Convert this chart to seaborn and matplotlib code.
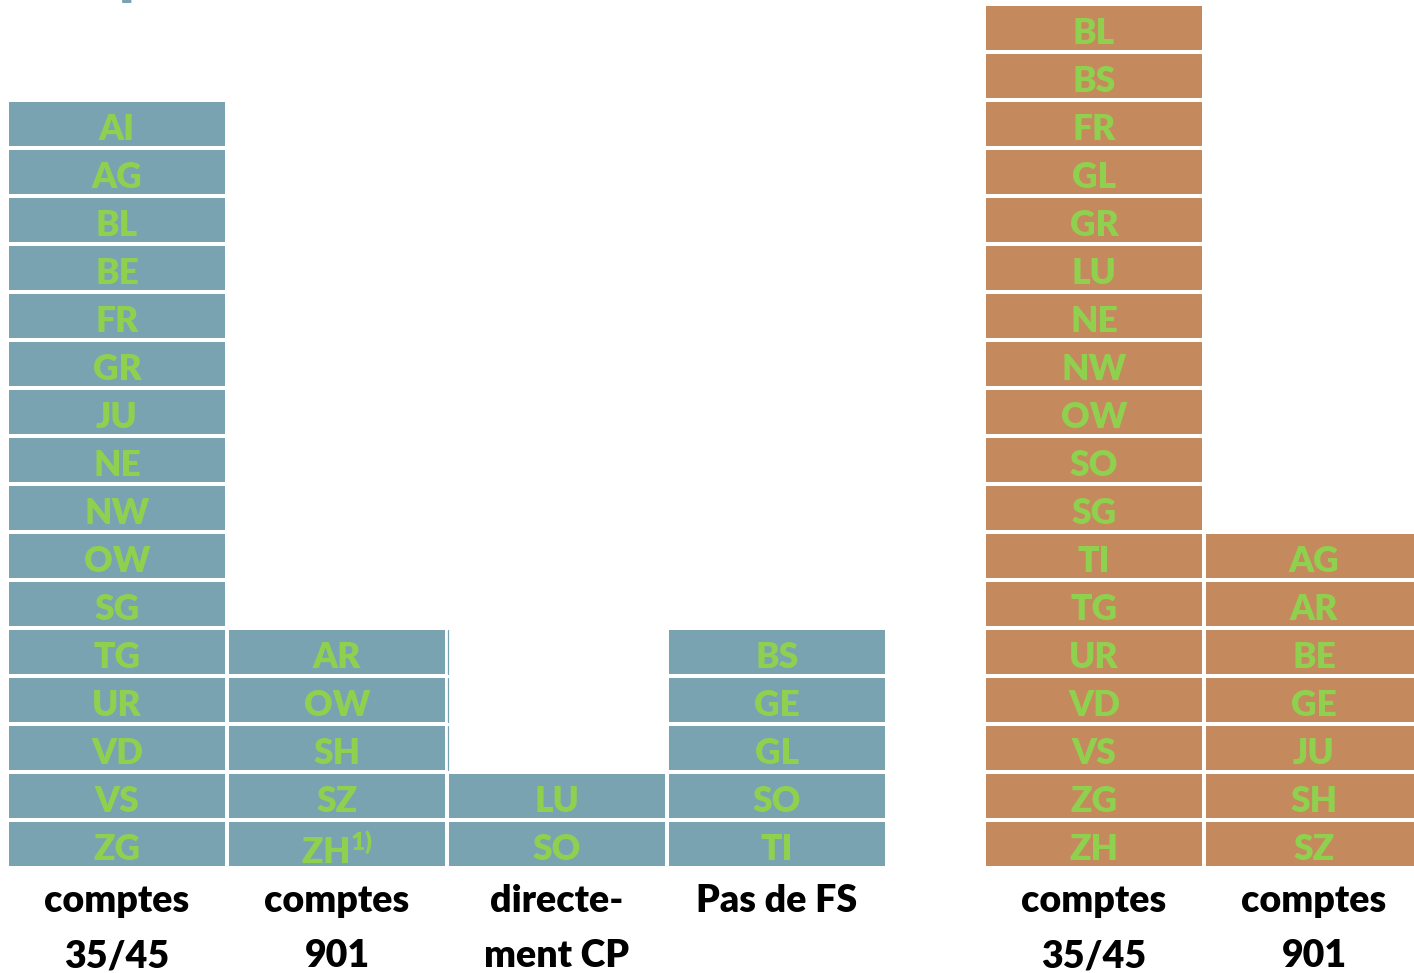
import matplotlib
matplotlib.use("Agg")
import matplotlib.pyplot as plt
import seaborn as sns
import pandas as pd

# ---------------- data ----------------
col_names = ["comptes 35/45", "comptes 901", "directement CP", "Pas de FS",
             "comptes 35/45 ", "comptes 901 "]
col_lines = [("comptes", "35/45"), ("comptes", "901"), ("directe-", "ment CP"),
             ("Pas de FS", ""), ("comptes", "35/45"), ("comptes", "901")]
col_group = ["bleu", "bleu", "bleu", "bleu", "orange", "orange"]

blue_3545 = ["AI", "AG", "BL", "BE", "FR", "GR", "JU", "NE", "NW", "OW", "SG",
             "TG", "UR", "VD", "VS", "ZG"]
blue_901 = ["AR", "OW", "SH", "SZ", "ZH"]
blue_cp = ["LU", "SO"]
blue_nofs = ["BS", "GE", "GL", "SO", "TI"]
orange_3545 = ["BL", "BS", "FR", "GL", "GR", "LU", "NE", "NW", "OW", "SO", "SG",
               "TI", "TG", "UR", "VD", "VS", "ZG", "ZH"]
orange_901 = ["AG", "AR", "BE", "GE", "JU", "SH", "SZ"]
footnote_cell = ("comptes 901", "ZH", "1)")

columns = [blue_3545, blue_901, blue_cp, blue_nofs, orange_3545, orange_901]

# ---------------- style ----------------
BLUE = "#7AA3B2"
ORANGE = "#C48A5E"
GREEN = "#8FD14F"
sns.set_theme(style="white")
plt.rcParams["font.family"] = ["Lato", "DejaVu Sans"]
plt.rcParams["mathtext.default"] = "regular"
WEIGHT = "heavy"

group_gap = 0.441
xpos = [0, 1, 2, 3, 4 + group_gap, 5 + group_gap]
cell_h = 44 / 48
px_y = 1 / 48.0

df = pd.DataFrame({
    "x": xpos,
    "count": [len(c) for c in columns],
    "group": col_group,
})

fig = plt.figure(figsize=(14.14, 9.73), dpi=100)
ax = fig.add_axes([0, 0, 1, 1])

sns.barplot(data=df, x="x", y="count", hue="group", native_scale=True,
            palette={"bleu": BLUE, "orange": ORANGE}, dodge=False,
            saturation=1, width=216 / 220, linewidth=0, legend=False,
            ax=ax, zorder=1)

# white separators between stacked cells
max_n = max(len(c) for c in columns)
for k in range(1, max_n + 1):
    ax.axhline(k - 2 * px_y, color="white", lw=4 * 0.72, zorder=2)

# faint table border left of "directement CP" in empty rows
x_edge = xpos[2] - 108 / 220 - 0.5 / 220
for r in range(len(blue_cp), len(blue_901)):
    ax.plot([x_edge, x_edge], [r, r + cell_h], color=BLUE, lw=0.9, zorder=3)

# cell labels
for x, col, name in zip(xpos, columns, col_names):
    n = len(col)
    for k, lab in enumerate(col):
        row = n - 1 - k
        if name == footnote_cell[0] and lab == footnote_cell[1]:
            ax.text(x, row + 0.045, lab + r"$^{" + footnote_cell[2] + "}$",
                    ha="center", va="baseline", color=GREEN, fontsize=25.5,
                    fontweight=WEIGHT, zorder=4)
        else:
            ax.text(x, row + 5.5 * px_y, lab, ha="center", va="baseline",
                    color=GREEN, fontsize=25.5, fontweight=WEIGHT, zorder=4)

# category labels
for x, (l1, l2) in zip(xpos, col_lines):
    ax.text(x, -46 * px_y, l1, ha="center", va="baseline", color="black",
            fontsize=27, fontweight=WEIGHT)
    if l2:
        ax.text(x, -101 * px_y, l2, ha="center", va="baseline", color="black",
                fontsize=27, fontweight=WEIGHT)

# cut-off title fragment at the top edge (as in the reference)
ax.text(-0.5318 + 119 / 220, 866 * px_y + 7 * px_y, "p", ha="left",
        va="baseline", color=BLUE, fontsize=43, fontweight=WEIGHT)

ax.set_xlim(-117 / 220, (1414 - 117) / 220)
ax.set_ylim(-(973 - 866) * px_y, 866 * px_y)
ax.axis("off")

fig.savefig("out.png", dpi=100)
